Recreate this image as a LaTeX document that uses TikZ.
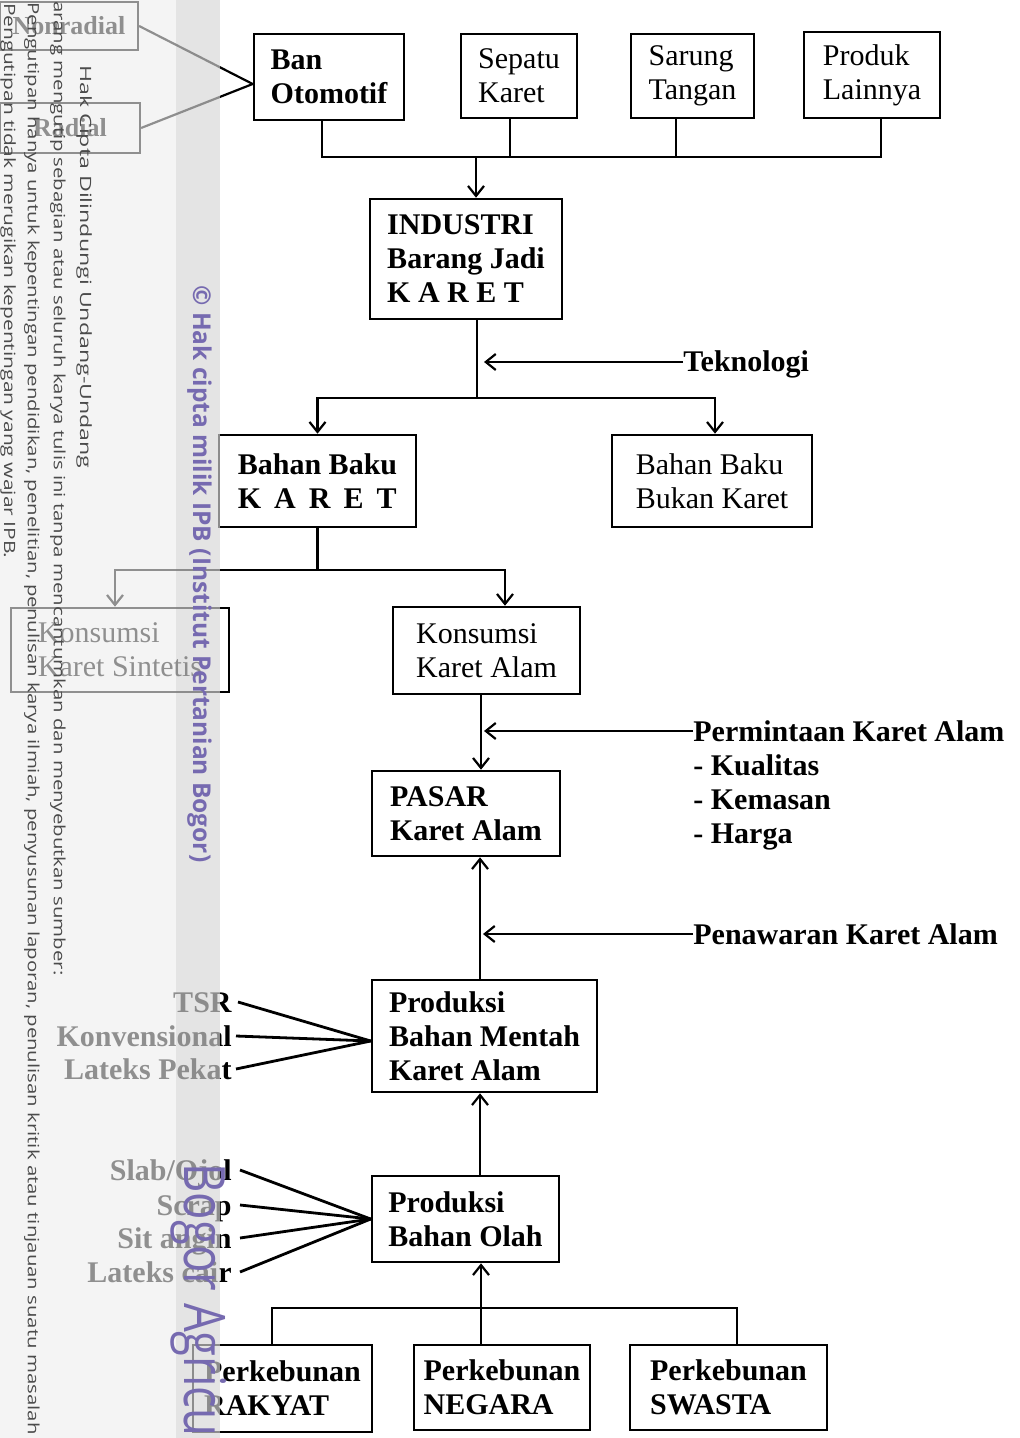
\documentclass[tikz,border=0pt]{standalone}
\usepackage{fontspec}
\usepackage{graphicx}
\setmainfont{Liberation Serif}
\newfontfamily\wmfont{Open Sans}
\usetikzlibrary{arrows.meta}
\definecolor{wmpurple}{RGB}{118,106,176}
\definecolor{wmgray}{RGB}{75,75,75}
\definecolor{veilA}{RGB}{238,238,238}
\definecolor{veilB}{RGB}{214,214,214}
\begin{document}
\begin{tikzpicture}[x=0.5pt,y=-0.5pt,
  box/.style={draw, line width=1.3pt, align=left, inner sep=0pt, font=\fontsize{15}{17}\selectfont\bfseries},
  rbox/.style={box, font=\fontsize{15}{17}\selectfont},
  ln/.style={line width=1.1pt},
  arr/.style={ln, -{Straight Barb[length=5pt,width=8pt,line width=1.1pt]}},
  lbl/.style={inner sep=0pt, font=\fontsize{15}{17}\selectfont\bfseries, text height=10pt, text depth=0pt},
  feed/.style={line width=1.4pt},
  wm/.style={inner sep=0pt, rotate=-90, anchor=base west, text=wmgray, font=\wmfont},
  wmp/.style={inner sep=0pt, rotate=-90, anchor=base west, text=wmpurple, font=\wmfont},
]
\useasboundingbox (0,0) rectangle (1019,1438);
\fill[white] (0,0) rectangle (1019,1438);

% ---------- boxes ----------
\node[box,  minimum width=75pt,   minimum height=43pt]   (ban) at (329,77)     {Ban\\Otomotif};
\node[rbox, minimum width=58pt,   minimum height=42pt]   (sep) at (519,76)     {Sepatu\\Karet};
\node[rbox, minimum width=61.5pt, minimum height=42pt]   (sar) at (692.5,76)   {Sarung\\Tangan};
\node[rbox, minimum width=68pt,   minimum height=43pt]   (pro) at (872,75)     {Produk\\Lainnya};
\node[box,  minimum width=96pt,   minimum height=60pt]   (ind) at (466,259)    {INDUSTRI\\Barang Jadi\\K A R E T};
\node[box,  minimum width=98.5pt, minimum height=46pt]   (bbk) at (317.5,481)  {Bahan Baku\\{\spaceskip=6.5pt\relax K A R E T}};
\node[rbox, minimum width=100pt,  minimum height=46pt]   (bbb) at (712,481)    {Bahan Baku\\Bukan Karet};
\node[rbox, minimum width=109pt,  minimum height=42pt]   (kks) at (120,650)    {Konsumsi\\Karet Sintetis};
\node[rbox, minimum width=93.5pt, minimum height=43.5pt] (kka) at (486.5,650.5){Konsumsi\\Karet Alam};
\node[box,  minimum width=94pt,   minimum height=42.5pt] (pas) at (466,813.5)  {PASAR\\Karet Alam};
\node[box,  minimum width=112.5pt,minimum height=56pt]   (pbm) at (484.5,1036) {Produksi\\Bahan Mentah\\Karet Alam};
\node[box,  minimum width=93.5pt, minimum height=43pt]   (pbo) at (465.5,1219) {Produksi\\Bahan Olah};
\node[box,  minimum width=89.5pt, minimum height=43.5pt] (pr)  at (282.5,1388.5){Perkebunan\\RAKYAT};
\node[box,  minimum width=88pt,   minimum height=42.5pt] (pn)  at (502,1387.5) {Perkebunan\\NEGARA};
\node[box,  minimum width=98.5pt, minimum height=42.5pt] (ps)  at (728.5,1387.5){Perkebunan\\SWASTA};
\node[box, line width=1.1pt, font=\fontsize{13}{15}\selectfont\bfseries, minimum width=69pt, minimum height=24pt] (nr) at (69,26) {Nonradial};
\node[box, line width=1.1pt, font=\fontsize{13}{15}\selectfont\bfseries, minimum width=70pt, minimum height=25pt] (rd) at (70,128) {Radial};

% ---------- top products to industry ----------
\coordinate (busT) at (476,157);
\draw[ln] ([xshift=-3.5pt]ban.south) |- ([xshift=4.5pt]pro.south |- busT) -- ([xshift=4.5pt]pro.south);
\draw[ln] ([xshift=-4.5pt]sep.south) -- ([xshift=-4.5pt]sep.south |- busT);
\draw[ln] ([xshift=-8.25pt]sar.south) -- ([xshift=-8.25pt]sar.south |- busT);
\draw[arr] (busT) -- ([xshift=5pt]ind.north);
\draw[ln] (nr.east) -- ([yshift=-3.5pt]ban.west);
\draw[ln] (rd.east) -- ([yshift=-3.5pt]ban.west);

% ---------- industry to raw materials ----------
\coordinate (tj) at (477,398);
\draw[ln] ([xshift=5.5pt]ind.south) -- (tj);
\draw[arr] (tj) -| (bbk.north);
\draw[arr] (tj) -| ([xshift=1.5pt]bbb.north);
\node[lbl, anchor=west] (tek) at (683,362) {Teknologi};
\coordinate (tekend) at (484,362);
\draw[arr] (tek.west) -- (tekend);

% ---------- consumption ----------
\coordinate (kj) at (318,570);
\draw[ln] (bbk.south) -- (bbk.south |- kj);
\draw[arr] (kj) -| ([xshift=9.25pt]kka.north);
\draw[arr] (kj) -| ([xshift=-2.5pt]kks.north);
\draw[arr] ([xshift=-2.75pt]kka.south) -- ([xshift=-2.75pt]kka.south |- pas.north);

\node[lbl, anchor=west] (perm) at (693,731) {Permintaan Karet Alam};
\node[lbl, anchor=west] (kual) at (693,765) {- Kualitas};
\node[lbl, anchor=west] (kem)  at (693,799) {- Kemasan};
\node[lbl, anchor=west] (har)  at (693,833) {- Harga};
\coordinate (permend) at (484,731);
\draw[arr] (perm.west) -- (permend);

% ---------- supply ----------
\draw[arr] ([xshift=-2.25pt]pbm.north) -- ([xshift=-2.25pt]pbm.north |- pas.south);
\node[lbl, anchor=west] (pen) at (693,934) {Penawaran Karet Alam};
\coordinate (penend) at (483,934);
\draw[arr] (pen.west) -- (penend);

\draw[arr] ([xshift=7.25pt]pbo.north) -- ([xshift=7.25pt]pbo.north |- pbm.south);
\coordinate (bb) at (481,1308);
\draw[arr] ([xshift=-10.5pt]pn.north) -- ([xshift=-10.5pt]pn.north |- pbo.south);
\draw[ln] ([xshift=-5.25pt]pr.north) |- ([xshift=4.25pt]ps.north |- bb) -- ([xshift=4.25pt]ps.north);

% ---------- product types ----------
\node[lbl, anchor=east] (tsr)  at (232,1002) {TSR};
\node[lbl, anchor=east] (konv) at (232,1036) {Konvensional};
\node[lbl, anchor=east] (lp)   at (232,1069) {Lateks Pekat};
\draw[feed] ([xshift=3pt]tsr.east)  -- ([yshift=-2.5pt]pbm.west);
\draw[feed] ([xshift=2pt]konv.east) -- ([yshift=-2.5pt]pbm.west);
\draw[feed] ([xshift=2pt]lp.east)   -- ([yshift=-2.5pt]pbm.west);

\node[lbl, anchor=east] (slab) at (232,1170) {Slab/Ojol};
\node[lbl, anchor=east] (scr)  at (232,1205) {Scrap};
\node[lbl, anchor=east] (sit)  at (232,1238) {Sit angin};
\node[lbl, anchor=east] (lc)   at (232,1272) {Lateks cair};
\draw[feed] ([xshift=4pt]slab.east) -- (pbo.west);
\draw[feed] ([xshift=4pt]scr.east)  -- (pbo.west);
\draw[feed] ([xshift=4pt]sit.east)  -- (pbo.west);
\draw[feed] ([xshift=4pt]lc.east)   -- (pbo.west);

% ---------- watermark veil ----------
\fill[veilA, fill opacity=0.604] (0,0) rectangle (176,1438);
\fill[veilB, fill opacity=0.655] (176,0) rectangle (220,1438);

\begin{scope}
\clip (0,0) rectangle (1019,1438);
\node[wm] (w1) at (80,65) {\resizebox{201.5pt}{5.9pt}{Hak Cipta Dilindungi Undang-Undang}};
\node[wm] (w2) at (54,1)  {\resizebox{487pt}{5.9pt}{arang mengutip sebagian atau seluruh karya tulis ini tanpa mencantumkan dan menyebutkan sumber:}};
\node[wm] (w3) at (28,2)  {\resizebox{716pt}{5.9pt}{Pengutipan hanya untuk kepentingan pendidikan, penelitian, penulisan karya ilmiah, penyusunan laporan, penulisan kritik atau tinjauan suatu masalah}};
\node[wm] (w4) at (4,3)   {\resizebox{277.5pt}{5.9pt}{Pengutipan tidak merugikan kepentingan yang wajar IPB.}};
\node[wmp, font=\wmfont\bfseries] (w5) at (193,285) {\resizebox{288.5pt}{!}{\textcopyright\ Hak cipta milik IPB (Institut Pertanian Bogor)}};
\node[wmp] (w6) at (184,1163) {\resizebox{136.5pt}{21pt}{Bogor Agricu}};
\end{scope}
\end{tikzpicture}
\end{document}
